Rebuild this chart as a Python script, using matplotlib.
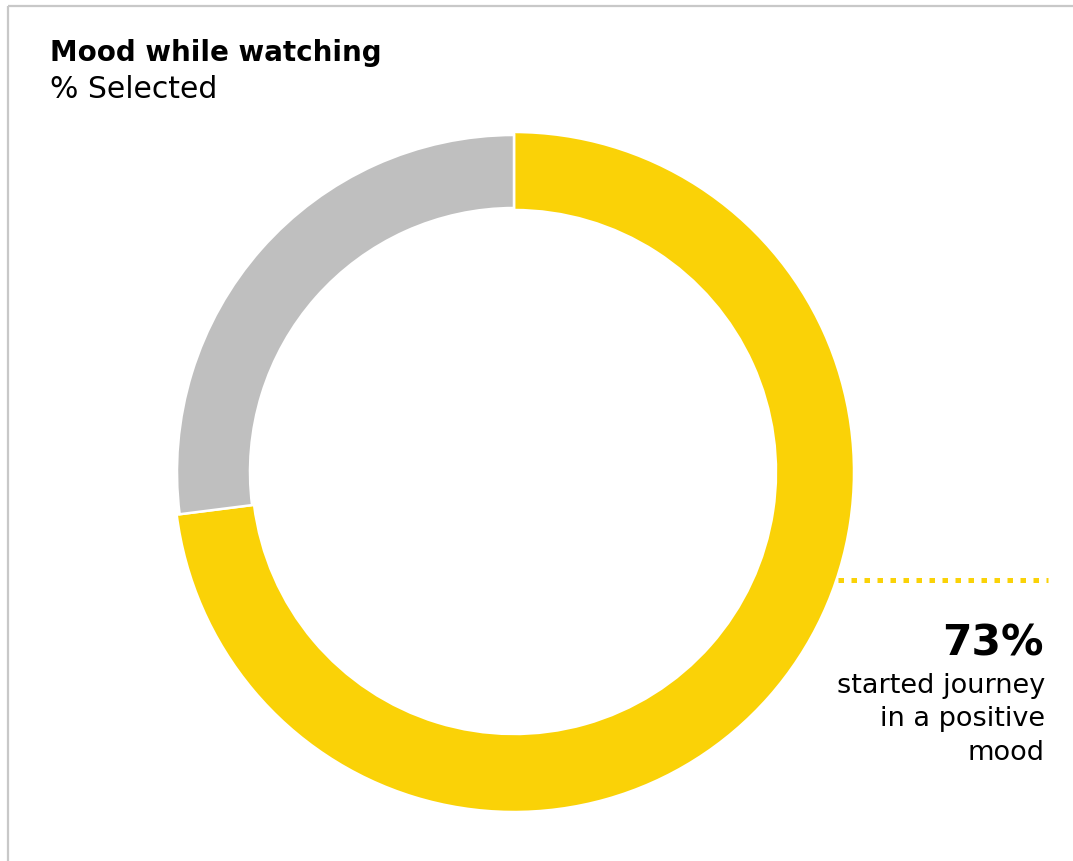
import matplotlib
matplotlib.use("Agg")
import matplotlib.pyplot as plt

# Data
categories = ["Positive mood", "Other"]
values = [73, 27]
colors = ["#FAD207", "#BFBFBF"]
title = "Mood while watching"
subtitle = "% Selected"
big_label = "73%"
caption = "started journey\nin a positive\nmood"

W, H = 1073, 861
fig = plt.figure(figsize=(W / 100, H / 100), dpi=100)
ax = fig.add_axes([0, 0, 1, 1])

def Y(y):
    return H - y

cx, cy = 514, Y(472)
wedges, _ = ax.pie(values, colors=colors, startangle=90, counterclock=False,
                   radius=340, center=(cx, cy),
                   wedgeprops=dict(width=78, edgecolor="white", linewidth=1.8))
# gray slice slightly smaller
wedges[1].set_radius(337)
wedges[1].set_width(73)

ax.set_xlim(0, W)
ax.set_ylim(0, H)
ax.set_aspect("auto")
ax.set_axis_off()

# frame border (left and top)
ax.plot([8, 8], [Y(6), 0], color="#C8C8C8", lw=1.6, solid_capstyle="butt")
ax.plot([8, W], [Y(6), Y(6)], color="#C8C8C8", lw=1.6, solid_capstyle="butt")

font = "DejaVu Sans"
ax.text(50, Y(61), title, fontsize=20, fontweight="bold", family=font,
        ha="left", va="baseline", color="black")
ax.text(50, Y(98), subtitle, fontsize=21.5, family=font,
        ha="left", va="baseline", color="black")

# dotted leader
ax.plot([838, 1048], [Y(580), Y(580)], color=colors[0], lw=3.6,
        linestyle=(0, (1.1, 1.5)), dash_capstyle="butt")

ax.text(1044, Y(656), big_label, fontsize=30.5, fontweight="bold", family=font,
        ha="right", va="baseline", color="black")
lines = caption.split("\n")
for i, ln in enumerate(lines):
    ax.text(1045, Y(693 + i * 33.5), ln, fontsize=19.5, family=font,
            ha="right", va="baseline", color="black")

fig.savefig("out.png", dpi=100)
